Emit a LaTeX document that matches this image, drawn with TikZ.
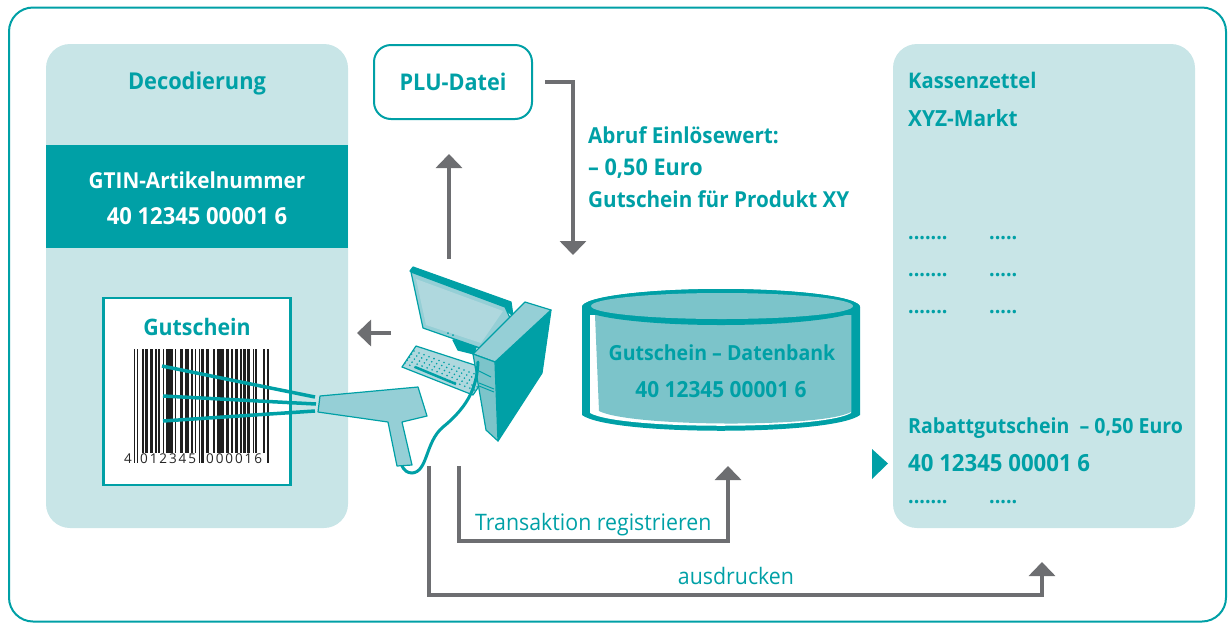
\documentclass[tikz,border=0pt]{standalone}
\usepackage{fontspec}
\setmainfont{Open Sans}[FakeStretch=0.94]
\newfontfamily\codefont[LetterSpace=14]{Open Sans}
\usetikzlibrary{arrows.meta,positioning,calc}
\definecolor{tealc}{HTML}{00A0A6}
\definecolor{panelc}{HTML}{C8E5E7}
\definecolor{flowc}{HTML}{6D6E71}
\definecolor{dbc}{HTML}{7CC4CA}
\definecolor{scanc}{HTML}{95CFD6}
\definecolor{screenc}{HTML}{AFD8DE}
\newcommand{\fsz}[1]{\fontsize{#1}{25}\selectfont}
\tikzset{
  panel/.style={fill=panelc,rounded corners=24pt,minimum width=302pt,minimum height=484pt,inner sep=0pt},
  boldlab/.style={font=\fsz{22}\bfseries,text=tealc,inner sep=0pt,anchor=base},
  leftlab/.style={boldlab,anchor=base west},
  whitelab/.style={boldlab,text=white},
  thinlab/.style={font=\fsz{22.7}\selectfont,text=tealc,inner sep=0pt,anchor=base},
  codelab/.style={font=\fsz{13.5}\codefont,text=black!85,inner sep=0pt,anchor=base west},
  flow/.style={draw=flowc,line width=4pt,-{Triangle[length=14pt,width=26pt]}},
  beam/.style={draw=tealc,line width=3.5pt},
  pcpart/.style={draw=tealc,line width=1.2pt,line join=round},
}
\begin{document}
\begin{tikzpicture}[x=1pt,y=-1pt]
\useasboundingbox (0,0) rectangle (1229,625);
%draw frame and panels
\node[draw=tealc,line width=2pt,rounded corners=24pt,minimum width=1217pt,minimum height=614pt] (frame) at (617.5,314.5) {};
\node[panel] (decoding) at (197,286) {};
\node[panel] (receipt) at (1044,286) {};
\node[fill=tealc,minimum width=302pt,minimum height=103pt,inner sep=0pt] (gtinband) at (197,196.5) {};
\node[draw=tealc,fill=white,line width=2.5pt,minimum width=187pt,minimum height=187pt,inner sep=0pt] (voucher) at (197,391.5) {};
\node[draw=tealc,fill=white,line width=2pt,rounded corners=17pt,minimum width=158pt,minimum height=74pt,inner sep=0pt] (plu) at (453,82) {};
%left panel texts
\node[boldlab,font=\fsz{23.2}\bfseries] (decolab) at (197,89) {Decodierung};
\node[whitelab] (gtinlab) at (197,188) {GTIN-Artikelnummer};
\node[whitelab,font=\fsz{23.4}\bfseries] (gtinnum) at (197,224) {40 12345 00001 6};
\node[boldlab,font=\fsz{22.7}\bfseries] (voucherlab) at (197,335) {Gutschein};
\node[boldlab,font=\fsz{23}\bfseries] (plulab) at (453,90) {PLU-Datei};
%draw barcode
\foreach \xa/\xb in {142/144.3,145.3/148.3,150/152.7,155.3/156.7,158/160.3,162.7/164.3,165.7/173.3,175/176,180/183.3,185/189.3,191/193.3,195.3/196,206/209.3,213/214.7,216.7/224,226/228.7,230.7/233.3,235.3/237.7,240/241.7,242.7/245.7,247.3/250,252.7/253.3,255/257.3,263.3/265}{
\fill[black!88] (\xa,349) rectangle (\xb,453); }
\foreach \xa/\xb in {134/135,136.5/137.5,199.3/200.3,201.3/204.3,266.7/269}{
\fill[black!88] (\xa,349) rectangle (\xb,463); }
\node[codelab] (codea) at (124,463) {4};
\node[codelab] (codeb) at (140,463) {012345};
\node[codelab] (codec) at (206,463) {000016};
%scan beams
\coordinate (scanmouth) at (316,404);
\draw[beam] (162,366) -- (315,397);
\draw[beam] (163,396) -- (scanmouth);
\draw[beam] (163,421) -- (315,411);
%draw monitor
\filldraw[pcpart,fill=tealc] (453,340) -- (458,350) -- (474,354) -- (480,335) -- cycle;
\filldraw[pcpart,fill=tealc] (410,271) -- (413,267) -- (511,302) -- (513,316) -- (505,309) -- cycle;
\filldraw[pcpart,fill=scanc] (411,272) -- (505,307) -- (510,318) -- (480,348) -- (423,328) -- cycle;
\fill[screenc] (416,279) -- (503,311) -- (481,343) -- (426,325) -- cycle;
\fill[tealc] (448,333) circle (1pt) (453,335) circle (1pt);
%draw keyboard
\filldraw[pcpart,fill=screenc] (416,346) -- (402,367) -- (473,395) -- (490,370) -- cycle;
\foreach \r in {0,...,4}{
\foreach \c in {0,...,14}{
\fill[tealc] ({414-2.3*\r+5*\c},{351+3.1*\r+1.9*\c}) circle (0.9pt); }}
\draw[tealc,line width=2.5pt] (415,367) -- (456,384);
%draw tower
\filldraw[pcpart,fill=tealc] (551,310) -- (495,362) -- (498,441) -- (542,373) -- cycle;
\filldraw[pcpart,fill=scanc] (525,302) -- (551,310) -- (495,362) -- (473,354) -- cycle;
\filldraw[pcpart,fill=dbc] (473,354) -- (495,362) -- (498,441) -- (486,430) -- cycle;
\draw[tealc,line width=1pt] (479,371) -- (491,377) (479,383) -- (494,389) (479,386) -- (494,392);
%cable and scanner
\draw[tealc,line width=3pt,line cap=round] (478,362) .. controls (477,385) and (470,405) .. (443,427) .. controls (425,442) and (428,472) .. (412,473) .. controls (407,473) and (404,470) .. (402,466);
\filldraw[pcpart,fill=scanc] (320,396) -- (418,387) -- (427,416) -- (402,422) -- (412,465) -- (397,466) -- (388,422) -- (318,412) -- cycle;
%draw database
\fill[tealc] (582,307) -- (582,415) .. controls (610,436) and (832,436) .. (860,415) -- (860,307) -- cycle;
\fill[tealc] (721,307) ellipse [x radius=139,y radius=18];
\fill[white] (590,315) -- (590,413) .. controls (620,430) and (822,430) .. (851,413) -- (851,315) -- cycle;
\fill[dbc] (595,315) -- (599,411) .. controls (630,427) and (822,428) .. (851,412) -- (851,315) -- cycle;
\fill[tealc] (721,307) ellipse [x radius=139,y radius=18];
\fill[dbc] (722,306) ellipse [x radius=131,y radius=13];
\node[boldlab,font=\fsz{20.8}\bfseries] (dblab) at (722,360) {Gutschein -- Datenbank};
\node[boldlab,font=\fsz{22.2}\bfseries] (dbnum) at (721,397) {40 12345 00001 6};
%draw receipt texts
\node[leftlab,font=\fsz{21.5}\bfseries] (kasse) at (908,88) {Kassenzettel};
\node[leftlab,font=\fsz{22.2}\bfseries] (markt) at (908,126) {XYZ-Markt};
\foreach \y/\n in {239/a,276/b,313/c,503/d}{
\node[leftlab,font=\fsz{21}\bfseries] (dotsl\n) at (908,\y) {.......};
\node[leftlab,font=\fsz{21}\bfseries] (dotsr\n) at (989,\y) {.....}; }
\node[leftlab,font=\fsz{20.8}\bfseries] (rabatt) at (908,433) {Rabattgutschein \ -- 0,50 Euro};
\node[leftlab,font=\fsz{23.6}\bfseries] (rabattnum) at (908,471) {40 12345 00001 6};
\fill[tealc] (872,449) -- (888,463.5) -- (872,479) -- cycle;
%flow arrows
\coordinate (pcup) at (449,259);
\coordinate (pluin) at (449,154);
\coordinate (dbin) at (573,255);
\coordinate (pcleft) at (391,333);
\coordinate (voucherin) at (357,333);
\coordinate (pclow) at (459,466);
\coordinate (dbout) at (728,466);
\coordinate (pcprint) at (429,466);
\coordinate (receiptin) at (1042,562);
\draw[flow] (pcup) -- (pluin);
\draw[flow,shorten <=12pt] (plu.east) -| (dbin);
\draw[flow] (pcleft) -- (voucherin);
\draw[flow] (pclow) |- (594,541) -| (dbout);
\draw[flow] (pcprint) |- (735,595) -| (receiptin);
%flow labels
\node[leftlab] (abrufa) at (588,143) {Abruf Einlösewert:};
\node[leftlab,font=\fsz{23}\bfseries] (abrufb) at (588,175) {-- 0,50 Euro};
\node[leftlab] (abrufc) at (588,207) {Gutschein für Produkt XY};
\node[thinlab,anchor=base west] (translab) at (475,530) {Transaktion registrieren};
\node[thinlab] (drucklab) at (736,584) {ausdrucken};
\end{tikzpicture}
\end{document}
